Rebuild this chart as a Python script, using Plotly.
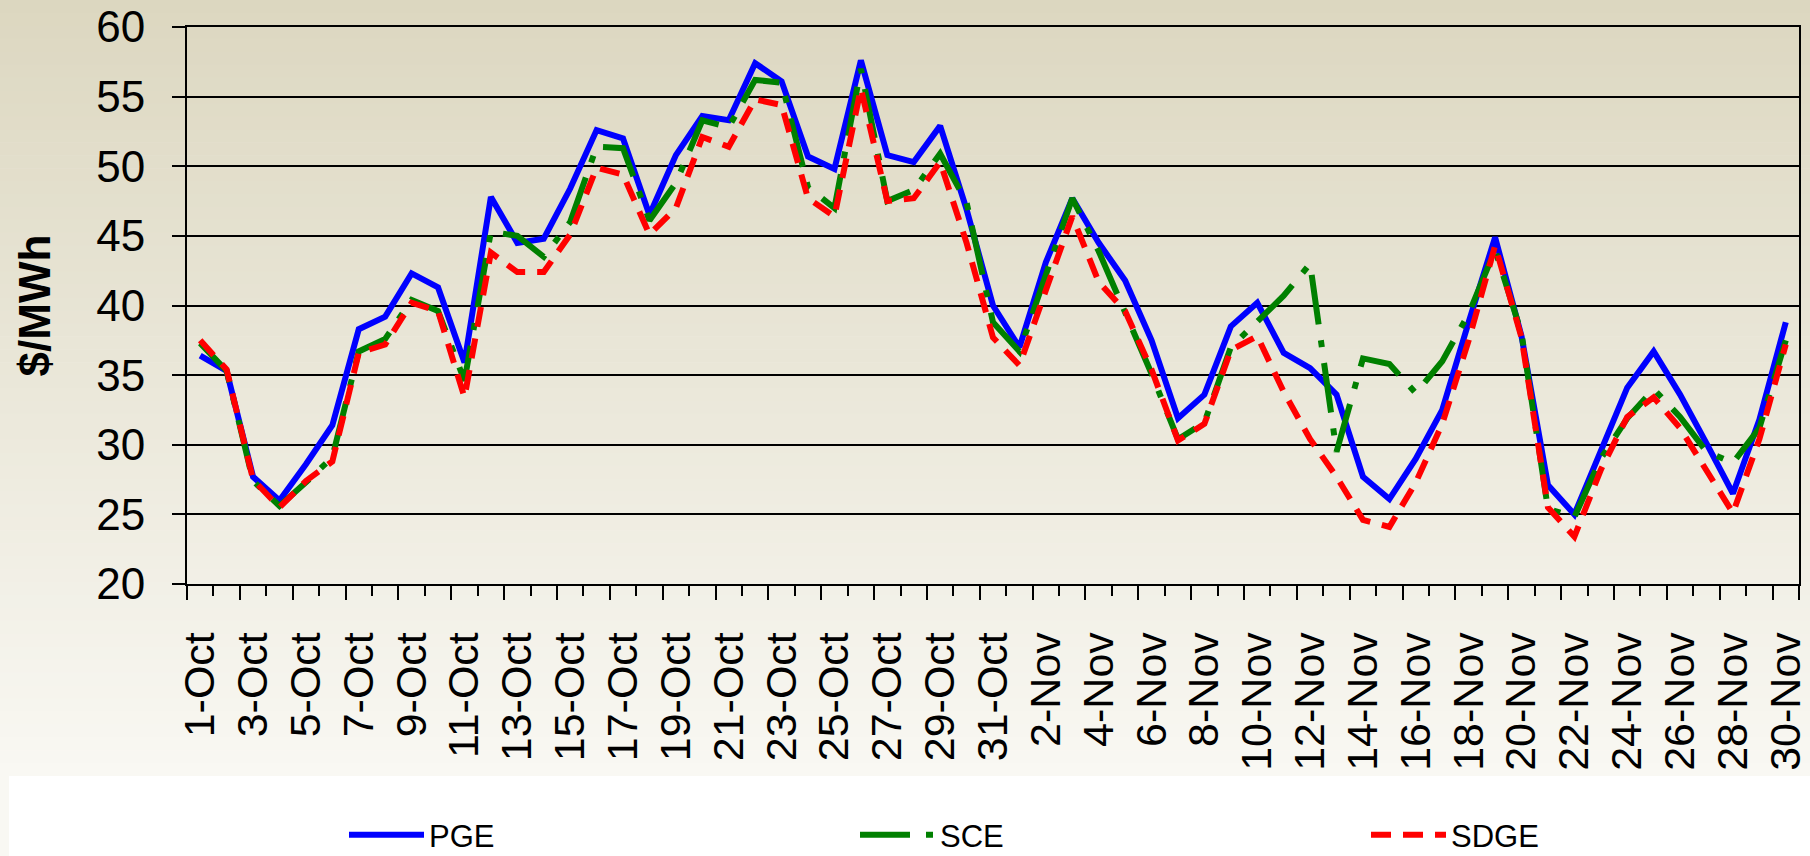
import plotly.graph_objects as go

# ---------------- data ----------------
dates = [f"{d}-Oct" for d in range(1, 32)] + [f"{d}-Nov" for d in range(1, 31)]

pge = [36.4, 35.3, 27.7, 26.0, 28.6, 31.4, 38.3, 39.2, 42.3, 41.3,
       35.9, 47.8, 44.5, 44.8, 48.4, 52.6, 52.0, 46.5, 50.8, 53.6,
       53.3, 57.4, 56.1, 50.7, 49.8, 57.6, 50.8, 50.3, 52.9, 46.9,
       40.0, 37.0, 43.1, 47.7, 44.5, 41.8, 37.5, 31.9, 33.6, 38.5,
       40.2, 36.6, 35.5, 33.6, 27.7, 26.1, 29.0, 32.5, 38.8, 44.9,
       37.8, 27.1, 25.0, 29.5, 34.1, 36.7, 33.6, 30.1, 26.5, 31.8,
       38.8]

sce = [37.3, 35.3, 27.4, 25.6, 27.3, 29.1, 36.7, 37.6, 40.4, 39.6,
       34.6, 45.3, 45.0, 43.5, 46.0, 51.4, 51.3, 46.1, 48.8, 53.3,
       52.8, 56.2, 56.0, 48.5, 47.0, 57.0, 47.5, 48.3, 50.9, 47.4,
       38.8, 36.7, 42.2, 47.7, 43.9, 39.6, 35.1, 30.4, 31.6, 37.0,
       38.8, 40.7, 43.0, 29.5, 36.2, 35.8, 33.7, 36.0, 39.4, 44.0,
       38.0, 25.4, 24.8, 29.0, 31.9, 34.0, 32.0, 29.5, 28.7, 31.2,
       37.5]

sdge = [37.5, 35.4, 27.5, 25.5, 27.4, 28.8, 36.6, 37.2, 40.2, 39.6,
        33.4, 43.8, 42.4, 42.4, 45.1, 49.9, 49.4, 45.1, 47.0, 52.1,
        51.4, 54.8, 54.4, 47.7, 46.4, 55.6, 47.5, 47.7, 50.3, 44.5,
        37.7, 35.7, 41.1, 46.4, 41.7, 39.6, 35.4, 30.3, 31.5, 36.8,
        37.8, 33.8, 30.4, 27.7, 24.6, 24.1, 27.3, 31.5, 37.5, 44.3,
        37.7, 25.5, 23.4, 28.2, 32.0, 33.4, 31.2, 28.1, 25.1, 30.4,
        37.2]

tick_labels = dates[::2]
y_ticks = [20, 25, 30, 35, 40, 45, 50, 55, 60]

# ---------------- layout geometry ----------------
W, H = 1810, 856
L, R, T, B = 187, 11, 27, 272
PW = W - L - R
PH = H - T - B
FONT = "Liberation Sans, Arial, sans-serif"

def pxx(px):
    return (px - L) / PW

def pxy(py):
    return (H - B - py) / PH

n = len(dates)
pos = list(range(n))

# background gradient (style only)
shapes = []
top_c = (220, 215, 192)
bot_c = (249, 248, 243)
NB = 60
Y_END = 776
for i in range(NB):
    y0 = Y_END * i / NB
    y1 = Y_END * (i + 1) / NB
    t = (i + 0.5) / NB
    c = tuple(round(a + (b - a) * t) for a, b in zip(top_c, bot_c))
    shapes.append(dict(type="rect", xref="paper", yref="paper",
                       x0=pxx(0), x1=pxx(W), y0=pxy(y1 + 0.6), y1=pxy(y0),
                       fillcolor="rgb(%d,%d,%d)" % c, line=dict(width=0),
                       layer="below"))
shapes.append(dict(type="rect", xref="paper", yref="paper",
                   x0=pxx(9), x1=pxx(W), y0=pxy(H), y1=pxy(Y_END),
                   fillcolor="white", line=dict(width=0), layer="below"))

fig = go.Figure()

fig.add_trace(go.Scatter(x=dates, y=pge, name="PGE", mode="lines",
                         line=dict(color="#0000FF", width=6)))
fig.add_trace(go.Scatter(x=dates, y=sce, name="SCE", mode="lines",
                         line=dict(color="#008000", width=6,
                                   dash="50px,16px,7px,16px")))
fig.add_trace(go.Scatter(x=dates, y=sdge, name="SDGE", mode="lines",
                         line=dict(color="#FF0000", width=6,
                                   dash="20px,12px")))
# helper trace so the tick-mark axis is drawn
fig.add_trace(go.Scatter(x=pos, y=pge, xaxis="x2", mode="lines",
                         line=dict(width=0, color="rgba(0,0,0,0)"),
                         showlegend=False, hoverinfo="skip"))

major_b = [k - 0.5 for k in range(0, n + 1, 2)] + [n - 0.5]
minor_b = [k - 0.5 for k in range(1, n + 1, 2)]

fig.update_layout(
    width=W, height=H,
    margin=dict(l=L, r=R, t=T, b=B, pad=0, autoexpand=False),
    paper_bgcolor="rgb(249,248,243)",
    plot_bgcolor="rgba(0,0,0,0)",
    font=dict(family=FONT, color="black"),
    shapes=shapes,
    showlegend=True,
    legend=dict(orientation="h", x=pxx(344), xanchor="left",
                y=pxy(835), yanchor="middle",
                font=dict(size=31, family=FONT, color="black"),
                bgcolor="rgba(0,0,0,0)", itemwidth=75,
                entrywidth=421, entrywidthmode="pixels",
                tracegroupgap=0),
    xaxis=dict(type="category", range=[-0.5, n - 0.5], automargin=False,
               tickmode="array", tickvals=tick_labels, ticktext=tick_labels,
               tickangle=-90, ticks="", showgrid=False,
               showline=True, linecolor="black", linewidth=2, mirror=True,
               tickfont=dict(size=43, family=FONT, color="black"),
               ticklabelstandoff=29, zeroline=False),
    xaxis2=dict(type="linear", overlaying="x", anchor="y", side="bottom",
                range=[-0.5, n - 0.5], automargin=False,
                tickmode="array", tickvals=major_b,
                showticklabels=False, ticks="outside", ticklen=15,
                tickwidth=2, tickcolor="black", showgrid=False,
                showline=False, zeroline=False,
                minor=dict(tickmode="array", tickvals=minor_b,
                           ticks="outside", ticklen=11, tickwidth=2,
                           tickcolor="black", showgrid=False)),
    yaxis=dict(range=[20, 60], tickmode="array", tickvals=y_ticks,
               automargin=False,
               ticks="outside", ticklen=13, tickwidth=2, tickcolor="black",
               showgrid=True, gridcolor="black", gridwidth=2,
               showline=True, linecolor="black", linewidth=2, mirror=True,
               zeroline=False,
               tickfont=dict(size=44, family=FONT, color="black"),
               ticklabelstandoff=18,
               title=dict(text="<b>$/MWh</b>", standoff=32,
                          font=dict(size=44, family=FONT, color="black"))),
)

fig.write_html("out.html",
               config={"displayModeBar": False},
               post_script="document.body.style.margin='0';"
                           "document.body.style.overflow='hidden';")
